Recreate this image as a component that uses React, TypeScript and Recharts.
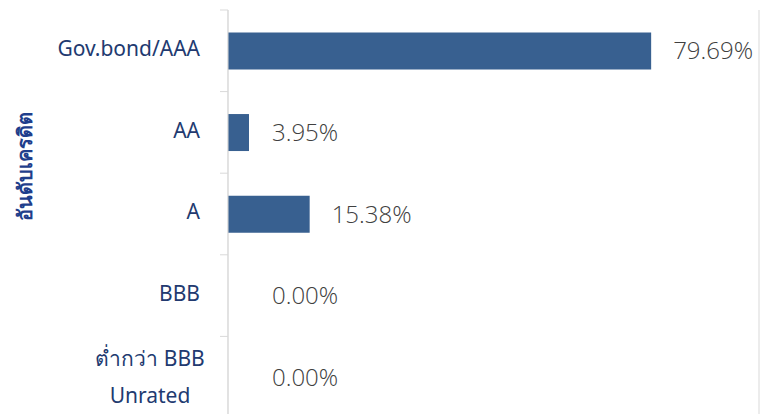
import React from "react";
import { BarChart, Bar, XAxis, YAxis, CartesianGrid, LabelList } from "recharts";

const categories = ["Gov.bond/AAA", "AA", "A", "BBB", "ต่ำกว่า BBB\nUnrated"];
const shares = [79.69, 3.95, 15.38, 0.0, 0.0];
const xTicks = [0, 20, 40, 60, 80, 100];
const axisTitle = "อันดับเครดิต";

const data = categories.map((name, i) => ({ name, value: shares[i] }));

const BAR_COLOR = "#386090";
const LABEL_COLOR = "#223A70";
const GRID_COLOR = "#d9d9d9";
const FONT = "'Noto Sans', 'Open Sans', sans-serif";

// tick text plus Excel-style tick marks on the category boundaries
const CategoryTick = (props: any) => {
  const { x, y, payload } = props;
  const half = payload?.offset || 40.8;
  const lines = String(payload.value).split("\n");
  const mark = <line x1={x} x2={x + 8} y1={y - half} y2={y - half} stroke={GRID_COLOR} />;
  if (lines.length === 1) {
    return (
      <g>
        {mark}
        <text x={x - 20} y={y - 2} dy="0.35em" textAnchor="end" fill={LABEL_COLOR} fontSize={21} fontFamily={FONT}>
          {lines[0]}
        </text>
      </g>
    );
  }
  return (
    <g>
      {mark}
      {lines.map((line, i) => (
        <text
          key={i}
          x={x - 70}
          y={y + (i - (lines.length - 1) / 2) * 37}
          dy="0.35em"
          textAnchor="middle"
          fill={LABEL_COLOR}
          fontSize={21}
          fontFamily={FONT}
        >
          {line}
        </text>
      ))}
    </g>
  );
};

const ValueLabel = (props: any) => {
  const { x, y, width, height, value } = props;
  const lx = Math.max(x + width + 22, x + 44);
  return (
    <text
      x={lx}
      y={y + height / 2}
      dy="0.35em"
      fill="#404040"
      fontSize={24}
      fontWeight={300}
      fontFamily="'Open Sans', 'Noto Sans', sans-serif"
    >
      {`${Number(value).toFixed(2)}%`}
    </text>
  );
};

const AxisTitle = (props: any) => {
  const { viewBox } = props;
  const cx = 24;
  const cy = viewBox.y + viewBox.height / 2 - 48;
  return (
    <text
      x={cx}
      y={cy}
      transform={`rotate(-90, ${cx}, ${cy})`}
      textAnchor="middle"
      dominantBaseline="central"
      fill="#1F3E8C"
      fontSize={20}
      fontWeight={700}
      fontFamily={FONT}
    >
      {axisTitle}
    </text>
  );
};

export default function App() {
  return (
    <div
      style={{
        position: "absolute",
        top: 0,
        left: 0,
        width: 760,
        height: 414,
        overflow: "hidden",
        background: "#fff",
      }}
    >
      <BarChart
        width={760}
        height={418}
        data={data}
        layout="vertical"
        margin={{ top: 10, right: 1, left: 0, bottom: 0 }}
        barCategoryGap="27.5%"
      >
        <CartesianGrid horizontal={false} stroke={GRID_COLOR} />
        <XAxis
          type="number"
          domain={[0, 100]}
          ticks={xTicks}
          tick={false}
          axisLine={false}
          tickLine={false}
          height={0}
        />
        <YAxis
          type="category"
          dataKey="name"
          width={228}
          axisLine={{ stroke: GRID_COLOR }}
          tickLine={false}
          tick={<CategoryTick />}
          interval={0}
          label={<AxisTitle />}
        />
        <Bar dataKey="value" fill={BAR_COLOR} minPointSize={0.01} isAnimationActive={false}>
          <LabelList dataKey="value" content={<ValueLabel />} />
        </Bar>
      </BarChart>
    </div>
  );
}
